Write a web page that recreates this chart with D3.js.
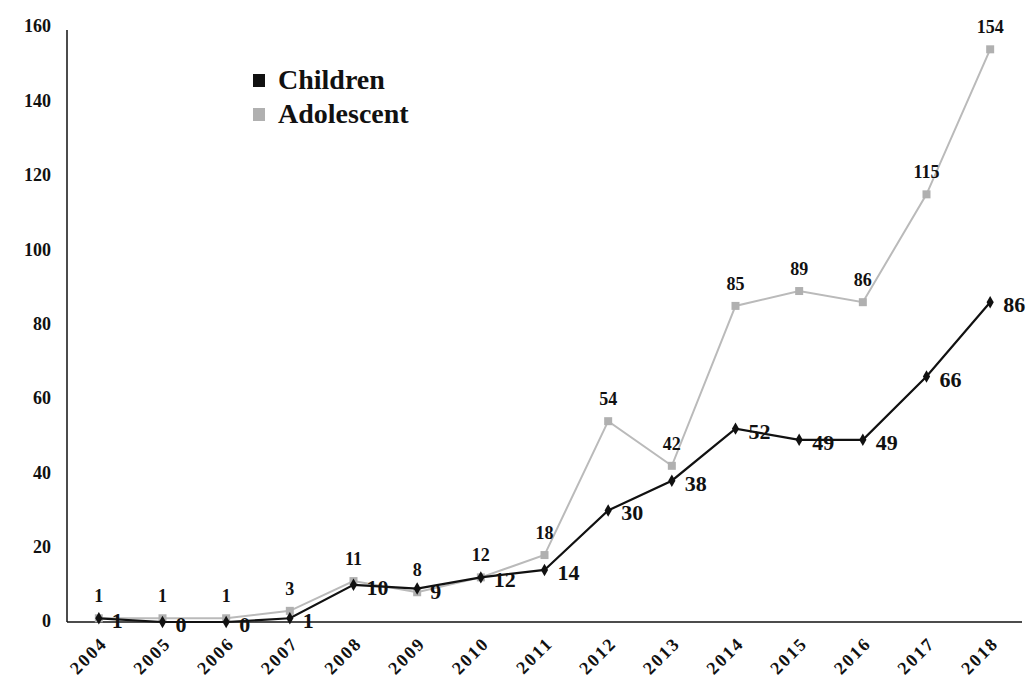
<!DOCTYPE html>
<meta charset="utf-8">
<script src="https://d3js.org/d3.v7.min.js"></script>
<style>
body { margin: 0; background: #fff; }
text { font-family: "Liberation Serif", "Times New Roman", serif; font-weight: bold; fill: #111; }
</style>
<body></body>
<script>

var years = ["2004","2005","2006","2007","2008","2009","2010","2011","2012","2013","2014","2015","2016","2017","2018"];
var children = [1, 0, 0, 1, 10, 9, 12, 14, 30, 38, 52, 49, 49, 66, 86];
var adolescent = [1, 1, 1, 3, 11, 8, 12, 18, 54, 42, 85, 89, 86, 115, 154];
var yTicks = [0, 20, 40, 60, 80, 100, 120, 140, 160];

var margin = {top: 27, right: 6, bottom: 63, left: 67};
var width = 1028 - margin.left - margin.right,
    height = 686 - margin.top - margin.bottom;

var svg = d3.select("body").append("svg")
    .attr("width", 1028)
    .attr("height", 686)
  .append("g")
    .attr("transform", "translate(" + margin.left + "," + margin.top + ")");

var x = d3.scalePoint()
  .domain(years)
  .range([0, width])
  .padding(0.5);

var y = d3.scaleLinear()
  .domain([0, 160])
  .range([height - 1, 0]);

// axes
svg.append("line")
  .attr("x1", 0).attr("x2", 0)
  .attr("y1", y(160) + 3).attr("y2", y(0))
  .attr("stroke", "#111").attr("stroke-width", 1.5);

svg.append("line")
  .attr("x1", 0).attr("x2", width)
  .attr("y1", y(0)).attr("y2", y(0))
  .attr("stroke", "#111").attr("stroke-width", 1.5);

svg.selectAll(".ytick")
  .data(yTicks).enter().append("text")
  .attr("class", "ytick")
  .attr("x", -16)
  .attr("y", function(d) { return y(d); })
  .attr("dy", "0.3em")
  .attr("text-anchor", "end")
  .style("font-size", "18px")
  .text(function(d) { return d; });

svg.selectAll(".xtick")
  .data(years).enter().append("text")
  .attr("class", "xtick")
  .attr("transform", function(d) { return "translate(" + (x(d) + 5) + "," + (y(0) + 18) + ") rotate(-45)"; })
  .attr("text-anchor", "end")
  .attr("dy", "0.35em")
  .style("font-size", "18px")
  .style("letter-spacing", "2px")
  .text(function(d) { return d; });

var line = d3.line()
  .x(function(d, i) { return x(years[i]); })
  .y(function(d) { return y(d); });

// adolescent series
svg.append("path")
  .datum(adolescent)
  .attr("fill", "none")
  .attr("stroke", "#bababa")
  .attr("stroke-width", 2)
  .attr("d", line);

svg.selectAll(".adoMark")
  .data(adolescent).enter().append("rect")
  .attr("class", "adoMark")
  .attr("x", function(d, i) { return x(years[i]) - 4; })
  .attr("y", function(d) { return y(d) - 4; })
  .attr("width", 8).attr("height", 8)
  .attr("fill", "#b0b0b0");

// children series
svg.append("path")
  .datum(children)
  .attr("fill", "none")
  .attr("stroke", "#111")
  .attr("stroke-width", 2.2)
  .attr("d", line);

svg.selectAll(".chMark")
  .data(children).enter().append("path")
  .attr("class", "chMark")
  .attr("d", d3.symbol().type(d3.symbolDiamond).size(45))
  .attr("transform", function(d, i) { return "translate(" + x(years[i]) + "," + y(d) + ")"; })
  .attr("fill", "#111");

// labels
svg.selectAll(".adoLabel")
  .data(adolescent).enter().append("text")
  .attr("class", "adoLabel")
  .attr("x", function(d, i) { return x(years[i]); })
  .attr("y", function(d) { return y(d) - 16; })
  .attr("text-anchor", "middle")
  .style("font-size", "18px")
  .text(function(d) { return d; });

svg.selectAll(".chLabel")
  .data(children).enter().append("text")
  .attr("class", "chLabel")
  .attr("x", function(d, i) { return x(years[i]) + 13; })
  .attr("y", function(d) { return y(d) + 10; })
  .style("font-size", "22px")
  .text(function(d) { return d; });

// legend
var legend = svg.append("g")
  .attr("transform", "translate(" + (253 - margin.left) + "," + (74 - margin.top) + ")");

var legendItems = [{name: "Children", color: "#111"}, {name: "Adolescent", color: "#b0b0b0"}];

legendItems.forEach(function(d, i) {
  legend.append("rect")
    .attr("x", 0).attr("y", i * 34)
    .attr("width", 12).attr("height", 13)
    .attr("fill", d.color);
  legend.append("text")
    .attr("x", 25).attr("y", i * 34 + 15)
    .style("font-size", "28px")
    .text(d.name);
});

</script>
